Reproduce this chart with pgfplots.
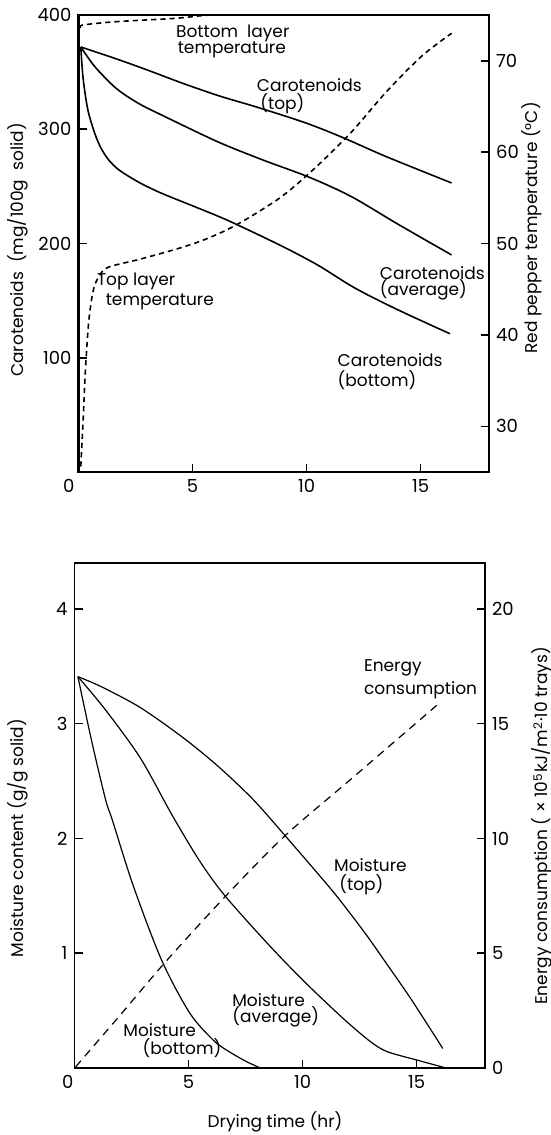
\documentclass[border=0pt]{standalone}
\usepackage{fontspec}
\setmainfont{Poppins}
\usepackage{pgfplots}
\pgfplotsset{compat=1.18}
\begin{document}
\begin{tikzpicture}[font=\fontsize{8.5}{10}\selectfont]
\path[use as bounding box] (0,0) rectangle (275.5pt,-567.5pt);
\pgfplotsset{
  common/.style={
    scale only axis, width=205.25pt,
    xmin=0, xmax=18,
    tick align=inside,
    major tick length=4pt,
    every tick/.style={black, line width=0.8pt},
    /pgf/number format/assume math mode=true,
    ticklabel style={font=\fontsize{9}{10}\selectfont},
    anchor=south west,
  },
  curve/.style={black, line width=0.8pt, smooth, tension=0.5, no marks},
  tcurve/.style={black, line width=0.8pt, dash pattern=on 2.6pt off 2pt, smooth, tension=0.5, no marks},
  ecurve/.style={black, line width=0.6pt, dash pattern=on 4pt off 3pt, smooth, tension=0.5, no marks},
}
% ---------------- top panel ----------------
\begin{axis}[common, height=228.5pt, at={(39.25pt,-236pt)},
  ymin=0, ymax=400, ytick={100,200,300,400}, xtick={0,5,10,15},
  xticklabels={\makebox[0pt][r]{0\hspace{2pt}},5,10,15},
  tick pos=left, axis line style={line width=1.1pt}]
% Carotenoids (top)
\addplot[curve] coordinates {(0.1,372) (1.6,362) (3,352) (4.6,340) (6.2,329) (7.8,319.5) (9.9,306) (11.5,293.5) (13.5,276) (16.36,253)};
% Carotenoids (average)
\addplot[curve] coordinates {(0.1,372) (0.72,354.7) (1.64,336) (2.6,323) (3.64,312.5) (6.11,289) (8.1,273) (10.12,258) (11.97,241) (14,217) (16.36,190)};
% Carotenoids (bottom)
\addplot[curve] coordinates {(0.1,372) (0.2,345) (0.41,317) (0.72,296) (1.0,283) (1.33,273) (1.8,264) (2.7,253) (3.64,244) (5,233) (6.57,220) (8.89,198) (10.5,181) (12.12,161) (14,142) (16.29,121)};
\end{axis}
\begin{axis}[common, height=228.5pt, at={(39.25pt,-236pt)},
  ymin=25, ymax=75, ytick={30,40,50,60,70},
  axis y line*=right, axis x line=none, axis line style={line width=1.1pt}]
% Top layer temperature
\addplot[tcurve] coordinates {(0.1,25.6) (0.2,30.5) (0.3,36) (0.45,41.5) (0.65,44.9) (0.9,46.4) (1.3,47.4) (2.72,48.3) (4.57,49.6) (5.8,50.7) (7.04,52.2) (8.89,55.1) (10.43,58.4) (11.97,62.2) (13.5,66.6) (15.05,70.5) (16.36,73.0)};
% Bottom layer temperature
\addplot[tcurve] coordinates {(0.1,73.6) (0.18,73.9) (1.64,74.27) (4.26,74.64) (5.8,75.0) (8.0,75.0)};
\end{axis}
% ---------------- bottom panel ----------------
\begin{axis}[common, height=252.5pt, at={(37.25pt,-534pt)},
  ymin=0, ymax=4.4, ytick={1,2,3,4}, xtick={0,5,10,15},
  xticklabels={\makebox[0pt][r]{0\hspace{0.5pt}},5,10,15},
  tick pos=left, axis line style={line width=0.9pt}]
% Moisture (top)
\addplot[curve, line width=0.6pt] coordinates {(0.15,3.41) (1.2,3.32) (2.89,3.14) (4.75,2.88) (6.29,2.63) (7.83,2.34) (9.21,2.03) (10.6,1.71) (11.53,1.49) (12.76,1.17) (13.68,0.91) (14.76,0.6) (16.15,0.17)};
% Moisture (average)
\addplot[curve, line width=0.6pt] coordinates {(0.15,3.41) (1.36,3.12) (2.89,2.7) (4.29,2.2) (5.5,1.8) (6.6,1.5) (8.44,1.09) (9.99,0.77) (11.68,0.45) (12.91,0.24) (13.68,0.145) (15,0.07) (16.3,0.0)};
% Moisture (bottom)
\addplot[curve, line width=0.6pt] coordinates {(0.15,3.41) (0.74,2.86) (1.36,2.34) (1.66,2.16) (2.59,1.58) (3.82,0.94) (5.05,0.48) (6.1,0.24) (6.8,0.14) (7.55,0.055) (8.15,0.0)};
\end{axis}
\begin{axis}[common, height=252.5pt, at={(37.25pt,-534pt)},
  ymin=0, ymax=22, ytick={0,5,10,15,20},
  axis y line*=right, axis x line=none, axis line style={line width=0.9pt}]
% Energy consumption
\addplot[ecurve] coordinates {(0.05,0.05) (2,2.3) (3.97,4.6) (6.6,7.46) (9.21,10.1) (12.14,12.6) (16.0,15.9)};
\end{axis}
% ---------------- text ----------------
\begin{scope}[x=0.5pt, y=-0.5pt]
\node[anchor=west, inner sep=0pt] at (175.7,33.3) {Bottom\ \ layer};
\node[anchor=west, inner sep=0pt] at (177.4,50) {temperature};
\node[anchor=west, inner sep=0pt] at (256.5,85) {Carotenoids};
\node[anchor=west, inner sep=0pt] at (260,103.3) {(top)};
\node[anchor=west, inner sep=0pt] at (379.5,273.3) {Carotenoids};
\node[anchor=west, inner sep=0pt] at (379.5,290) {(average)};
\node[anchor=west, inner sep=0pt] at (337.3,360) {Carotenoids};
\node[anchor=west, inner sep=0pt] at (337.3,380) {(bottom)};
\node[anchor=west, inner sep=0pt] at (96.6,281.7) {Top layer};
\node[anchor=west, inner sep=0pt] at (105.4,301.7) {temperature};
\node[rotate=90] at (17.5,250) {Carotenoids\ \ (mg/100g\ \ solid)};
\node[rotate=90] at (532,228) {Red pepper temperature (°C)};
\node[anchor=west, inner sep=0pt] at (363.7,668.3) {Energy};
\node[anchor=west, inner sep=0pt] at (363.7,690) {consumption};
\node[anchor=west, inner sep=0pt] at (333.8,865) {Moisture};
\node[anchor=west, inner sep=0pt] at (339,885) {(top)};
\node[anchor=west, inner sep=0pt] at (231.9,1000) {Moisture};
\node[anchor=west, inner sep=0pt] at (231.9,1016.7) {(average)};
\node[anchor=west, inner sep=0pt] at (123,1030) {Moisture};
\node[anchor=west, inner sep=0pt] at (142.3,1048.3) {(bottom)};
\node[inner sep=1pt] at (275,1122) {Drying time (hr)};
\node[rotate=90] at (17.5,838) {Moisture content (g/g solid)};
\node[rotate=90] at (542,826) {Energy consumption ( × 10\textsuperscript{5}kJ/m\textsuperscript{2}·10 trays)};
\end{scope}
\end{tikzpicture}
\end{document}
